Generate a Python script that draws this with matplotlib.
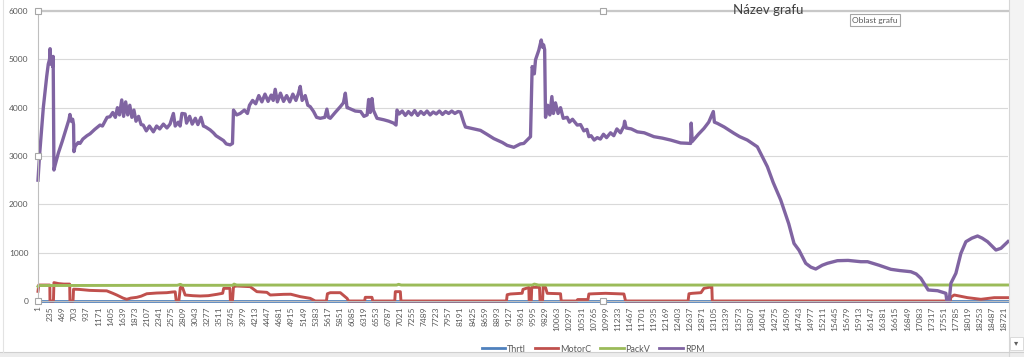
import matplotlib
matplotlib.use("Agg")
import matplotlib.pyplot as plt
from matplotlib.patches import Rectangle
from matplotlib.lines import Line2D

plt.rcParams["font.family"] = ["Lato", "DejaVu Sans"]

# ----------------- DATA -----------------
N_LAST = 18800
X_LABELS = list(range(1, 18722, 234))      # category labels shown on the axis
Y_TICKS = [0, 1000, 2000, 3000, 4000, 5000, 6000]

SERIES_NAMES = ["Thrtl", "MotorC", "PackV", "RPM"]

THRTL = [(1, 0), (18800, 0)]

MOTORC = [
    (1, 200), (15, 330), (230, 330), (233, 0), (300, 0), (310, 380), (400, 360),
    (500, 350), (615, 350), (620, 0), (680, 0), (690, 245), (800, 240), (1000, 220),
    (1203, 213), (1333, 210), (1450, 160), (1527, 124), (1650, 60), (1720, 35),
    (1800, 60), (1915, 76), (2000, 100), (2109, 150), (2300, 165), (2497, 172),
    (2600, 185), (2660, 190), (2680, 0), (2730, 0), (2760, 280), (2800, 283),
    (2853, 124), (3000, 110), (3144, 103), (3300, 110), (3468, 138), (3580, 160),
    (3600, 262), (3720, 262), (3730, 0), (3770, 0), (3790, 300), (3855, 310),
    (4113, 297), (4243, 193), (4437, 179), (4502, 124), (4760, 138), (4900, 140),
    (5083, 90), (5277, 55), (5374, 0), (5590, 0), (5610, 150), (5666, 172),
    (5860, 172), (5990, 55), (6021, 0), (6330, 0), (6344, 76), (6473, 76),
    (6490, 0), (6915, 0), (6926, 193), (7023, 193), (7035, 0), (9080, 0),
    (9094, 130), (9157, 145), (9384, 160), (9400, 240), (9513, 280), (9520, 0),
    (9560, 0), (9570, 283), (9720, 283), (9730, 0), (9780, 0), (9791, 310),
    (9837, 280), (9870, 159), (10128, 150), (10141, 0), (10451, 0), (10460, 30),
    (10660, 30), (10677, 145), (10774, 150), (11000, 159), (11356, 145),
    (11388, 0), (12600, 0), (12617, 150), (12681, 159), (12850, 172),
    (12907, 262), (13036, 290), (13060, 300), (13069, 0), (17680, 0),
    (17693, 80), (17758, 124), (18017, 69), (18275, 35), (18533, 69), (18800, 69),
]

PACKV = [
    (1, 300), (30, 320), (2700, 325), (2760, 345), (2800, 325), (3780, 325),
    (3800, 350), (3850, 330), (6950, 330), (6990, 345), (7040, 330), (9580, 330),
    (9620, 350), (9700, 330), (13090, 330), (18800, 331),
]

RPM = [
    (1, 2500), (30, 3000), (104, 4000), (170, 4650), (200, 4900), (225, 5000),
    (235, 5220), (250, 4900), (265, 5050), (285, 4850), (295, 5060), (310, 2710),
    (330, 2800), (395, 3060), (470, 3300), (557, 3600), (600, 3750), (620, 3860),
    (645, 3720), (673, 3760), (690, 3650), (698, 3090), (720, 3200), (780, 3280),
    (815, 3260), (870, 3350), (950, 3420), (1010, 3460), (1100, 3550), (1203, 3640),
    (1250, 3620), (1300, 3720), (1340, 3800), (1397, 3813), (1450, 3900),
    (1500, 3800), (1540, 4000), (1580, 3850), (1624, 4160), (1660, 3820),
    (1700, 4120), (1740, 3850), (1780, 4050), (1820, 3800), (1860, 3950),
    (1900, 3720), (1950, 3820), (2000, 3650), (2040, 3640), (2100, 3520),
    (2160, 3620), (2237, 3500), (2300, 3620), (2360, 3560), (2431, 3660),
    (2500, 3580), (2560, 3660), (2625, 3880), (2660, 3620), (2720, 3700),
    (2755, 3620), (2790, 3880), (2852, 3870), (2880, 3680), (2940, 3820),
    (2990, 3660), (3050, 3780), (3100, 3650), (3160, 3800), (3207, 3620),
    (3250, 3600), (3337, 3540), (3400, 3480), (3450, 3420), (3595, 3320),
    (3650, 3250), (3725, 3230), (3770, 3260), (3790, 3950), (3850, 3850),
    (3919, 3880), (4000, 3950), (4060, 3880), (4100, 4050), (4160, 4150),
    (4220, 4080), (4280, 4250), (4340, 4120), (4400, 4280), (4460, 4130),
    (4520, 4260), (4560, 4150), (4598, 4380), (4640, 4120), (4700, 4300),
    (4760, 4130), (4820, 4250), (4880, 4120), (4940, 4280), (5000, 4150),
    (5050, 4300), (5083, 4440), (5120, 4150), (5180, 4250), (5230, 4050),
    (5277, 4020), (5342, 3920), (5400, 3800), (5471, 3780), (5560, 3800),
    (5600, 3970), (5630, 3800), (5665, 3780), (5760, 3900), (5860, 4020),
    (5920, 4100), (5957, 4300), (5990, 4000), (6022, 3990), (6150, 3930),
    (6254, 3920), (6318, 3820), (6380, 3850), (6409, 4170), (6440, 3900),
    (6474, 4190), (6500, 3950), (6571, 3780), (6700, 3750), (6800, 3720),
    (6894, 3680), (6940, 3640), (6959, 3950), (7000, 3870), (7060, 3930),
    (7120, 3840), (7180, 3920), (7240, 3850), (7300, 3940), (7360, 3840),
    (7420, 3920), (7480, 3860), (7540, 3930), (7600, 3850), (7660, 3910),
    (7720, 3870), (7780, 3930), (7840, 3860), (7900, 3920), (7960, 3880),
    (8020, 3930), (8080, 3880), (8140, 3920), (8188, 3910), (8250, 3700),
    (8285, 3600), (8450, 3560), (8576, 3530), (8700, 3450), (8835, 3360),
    (9000, 3280), (9093, 3220), (9222, 3180), (9350, 3250), (9416, 3260),
    (9500, 3350), (9546, 3400), (9578, 4850), (9620, 4700), (9643, 4990),
    (9707, 5190), (9754, 5400), (9780, 5250), (9800, 5300), (9820, 5200),
    (9837, 3800), (9880, 4050), (9920, 3850), (9960, 4230), (9990, 3880),
    (10030, 4100), (10080, 3880), (10128, 4000), (10180, 3780), (10257, 3800),
    (10300, 3700), (10360, 3760), (10451, 3640), (10516, 3650), (10580, 3520),
    (10640, 3550), (10677, 3400), (10720, 3420), (10780, 3330), (10839, 3380),
    (10900, 3350), (10960, 3450), (11020, 3380), (11097, 3480), (11160, 3420),
    (11220, 3560), (11290, 3480), (11356, 3620), (11370, 3720), (11400, 3580),
    (11500, 3560), (11615, 3500), (11750, 3480), (11937, 3400), (12100, 3370),
    (12261, 3330), (12455, 3270), (12649, 3260), (12660, 3680), (12680, 3300),
    (12800, 3450), (12907, 3570), (13000, 3700), (13089, 3920), (13110, 3700),
    (13166, 3676), (13300, 3600), (13489, 3470), (13600, 3400), (13748, 3330),
    (13942, 3190), (14136, 2780), (14250, 2450), (14395, 2090), (14550, 1600),
    (14653, 1190), (14750, 1050), (14880, 780), (14980, 700), (15074, 662),
    (15200, 740), (15300, 780), (15494, 834), (15700, 840), (15947, 813),
    (16078, 813), (16300, 740), (16529, 656), (16700, 630), (16917, 606),
    (17020, 560), (17111, 470), (17253, 228), (17435, 213), (17596, 159),
    (17615, 0), (17660, 0), (17693, 366), (17790, 573), (17887, 986),
    (17984, 1227), (18100, 1300), (18210, 1345), (18300, 1300), (18404, 1227),
    (18566, 1055), (18663, 1090), (18800, 1230),
]

COLORS = ["#4F81BD", "#C0504D", "#9BBB59", "#8064A2"]
WIDTHS = [2.0, 2.1, 2.1, 2.4]
GRAY_TXT = "#595959"
# -------------------------------------------------------------------

W, H = 1024, 357
fig = plt.figure(figsize=(W / 100, H / 100), dpi=100)
fig.patch.set_facecolor("white")

ax = fig.add_axes([38 / W, 1 - 301 / H, (1008 - 38) / W, (301 - 11) / H])

for name, pts, col, lw in zip(SERIES_NAMES, [THRTL, MOTORC, PACKV, RPM], COLORS, WIDTHS):
    xs, ys = zip(*pts)
    ax.plot(xs, ys, color=col, lw=lw, solid_joinstyle="round", label=name,
            clip_on=False)

ax.set_xlim(1, N_LAST)
ax.set_ylim(0, 6000)
ax.set_yticks(Y_TICKS)
ax.set_yticklabels([str(v) for v in Y_TICKS], fontsize=6, color=GRAY_TXT)
ax.set_xticks(X_LABELS)
ax.set_xticklabels([str(v) for v in X_LABELS], rotation=90, fontsize=6,
                   color=GRAY_TXT)
ax.tick_params(axis="y", length=0, pad=7)
ax.tick_params(axis="x", length=0, pad=4)
ax.grid(axis="y", color="#d9d9d9", lw=0.8)
ax.set_axisbelow(True)

ax.spines["right"].set_visible(False)
ax.spines["bottom"].set_color("#bfbfbf")
ax.spines["bottom"].set_linewidth(0.8)
ax.spines["left"].set_color("#bfbfbf")
ax.spines["left"].set_linewidth(0.8)
ax.spines["top"].set_color("#c8c8c8")
ax.spines["top"].set_linewidth(1.6)

# selection handles of the plot area
for hx, hy in [(0, 1), (0.5825, 1), (0, 0.5), (0, 0), (0.5825, 0)]:
    ax.plot([hx], [hy], marker="s", ms=4, mfc="white", mec="#a6a6a6", mew=0.8,
            transform=ax.transAxes, clip_on=False, zorder=10)

fig.text(768 / W, 1 - 10 / H, "Název grafu", ha="center", va="center",
         fontsize=9.5, color="#404040")
fig.text(875 / W, 1 - 20 / H, "Oblast grafu", ha="center", va="center",
         fontsize=6, color=GRAY_TXT,
         bbox=dict(boxstyle="square,pad=0.3", fc="white", ec="#a6a6a6", lw=0.8))

handles = [Line2D([], [], color=c, lw=2.0) for c in COLORS]
fig.legend(handles, SERIES_NAMES, loc="center", bbox_to_anchor=(593 / W, 1 - 349 / H),
           ncol=4, frameon=False, fontsize=6.5, handlelength=2.6,
           columnspacing=1.0, handletextpad=0.2, labelcolor=GRAY_TXT)

# window chrome around the chart (scrollbar at right, strip at bottom)
fig.add_artist(Rectangle((1009 / W, 0), 15 / W, 1, transform=fig.transFigure,
                         fc="#f3f3f3", ec="none", zorder=20))
fig.add_artist(Line2D([1009 / W, 1009 / W], [0, 1], transform=fig.transFigure,
                      color="#d6d6d6", lw=0.8, zorder=21))
fig.add_artist(Rectangle((1010 / W, 1 - 350 / H), 13 / W, 13 / H,
                         transform=fig.transFigure, fc="white", ec="#d6d6d6",
                         lw=0.6, zorder=22))
fig.text(1016.5 / W, 1 - 343 / H, "▾", ha="center", va="center", fontsize=6,
         color="#606060", zorder=23, family=["DejaVu Sans"])
fig.add_artist(Rectangle((0, 0), 1, 5 / H, transform=fig.transFigure,
                         fc="#ececec", ec="none", zorder=20))
fig.add_artist(Line2D([0, 1], [5 / H, 5 / H], transform=fig.transFigure,
                      color="#d0d0d0", lw=0.8, zorder=21))
fig.add_artist(Line2D([3 / W, 3 / W], [5 / H, 1], transform=fig.transFigure,
                      color="#e3e3e3", lw=0.8, zorder=21))

fig.savefig("out.png", dpi=100)
